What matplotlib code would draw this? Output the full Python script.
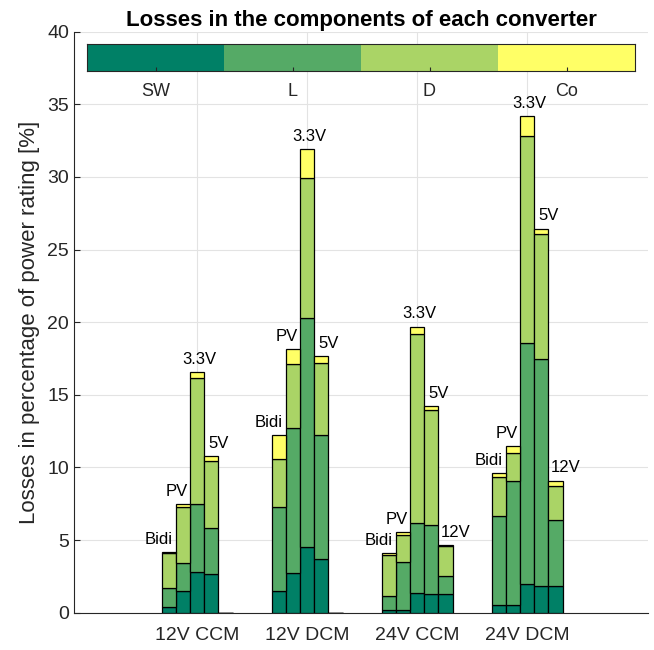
import numpy as np
import matplotlib.pyplot as plt
from matplotlib.colors import ListedColormap

plt.rcParams['font.family'] = ['Liberation Sans', 'DejaVu Sans']

# categories and converters in each group
groups = ['12V CCM', '12V DCM', '24V CCM', '24V DCM']
converters = ['Bidi', 'PV', '3.3V', '5V', '12V']
components = ['SW', 'L', 'D', 'Co']

# losses [%] per component, rows = groups, cols = converters
sw = [[0.4, 1.5, 2.8, 2.65, 0.0],
      [1.5, 2.7, 4.5, 3.7, 0.0],
      [0.2, 0.22, 1.38, 1.3, 1.3],
      [0.5, 0.5, 2.0, 1.85, 1.85]]
ind = [[1.3, 1.9, 4.7, 3.2, 0.0],
       [5.8, 10.05, 15.8, 8.55, 0.0],
       [0.95, 3.28, 4.82, 4.75, 1.25],
       [6.15, 8.57, 16.6, 15.65, 4.5]]
diode = [[2.4, 3.85, 8.65, 4.6, 0.0],
         [3.3, 4.4, 9.6, 4.95, 0.0],
         [2.8, 1.83, 13.0, 7.9, 2.05],
         [2.7, 1.93, 14.2, 8.6, 2.35]]
cout = [[0.1, 0.25, 0.4, 0.35, 0.0],
        [1.6, 1.0, 2.05, 0.45, 0.0],
        [0.18, 0.23, 0.5, 0.3, 0.07],
        [0.25, 0.5, 1.4, 0.35, 0.4]]

colors = ['#008066', '#55aa66', '#aad466', '#ffff66']

fig = plt.figure(figsize=(6.54, 6.5), dpi=100)
ax = fig.add_axes([74 / 654, 1 - 612.7 / 650, 574 / 654, 581 / 650])

data = np.array([sw, ind, diode, cout])  # comp x group x conv
totals = data.sum(axis=0)
w = 0.129
for g in range(len(groups)):
    xs = g + 1 + (np.arange(len(converters)) - 2) * w
    bottom = np.zeros(len(converters))
    for c in range(len(components)):
        vals = data[c, g]
        ax.bar(xs, vals, w, bottom=bottom, color=colors[c], edgecolor='black',
               linewidth=0.9, zorder=3)
        bottom += vals
    # converter labels above bars
    shifts = [-0.09, -0.06, 0.02, 0.07, 0.09]
    for i, name in enumerate(converters):
        if totals[g, i] > 0:
            ax.text(xs[i] + shifts[i], totals[g, i] + 0.35, name, ha='center',
                    va='bottom', fontsize=12, color='black', zorder=4)

ax.set_xlim(-0.12, 5.1)
ax.set_ylim(0, 40)
ax.set_xticks(range(1, len(groups) + 1))
ax.set_xticklabels(groups, fontsize=14, color='#262626')
ax.set_yticks(range(0, 41, 5))
ax.tick_params(axis='y', labelsize=14, colors='#262626', direction='in', length=4)
ax.tick_params(axis='x', direction='in', length=0, pad=10)
ax.grid(True, color='#e3e3e3', linewidth=0.8, zorder=0)
ax.set_axisbelow(True)
for s in ['top', 'right']:
    ax.spines[s].set_visible(False)
for s in ['left', 'bottom']:
    ax.spines[s].set_color('#262626')
    ax.spines[s].set_linewidth(0.8)
ax.set_ylabel('Losses in percentage of power rating [%]', fontsize=16,
              color='#262626', labelpad=5)
ax.set_title('Losses in the components of each converter', fontsize=16,
             fontweight='bold', pad=4)

# colorbar-like legend at the top
cax = fig.add_axes([87 / 654, 1 - 71 / 650, 548 / 654, 27 / 650])
cax.imshow(np.arange(len(components))[None, :], cmap=ListedColormap(colors),
           aspect='auto', extent=(0, len(components), 0, 1))
cax.set_xticks(np.arange(len(components)) + 0.5)
cax.set_xticklabels(components, fontsize=13, color='#262626')
cax.set_yticks([])
cax.tick_params(axis='x', direction='in', length=3, pad=9, color='#262626')
for s in cax.spines.values():
    s.set_color('#262626')
    s.set_linewidth(0.8)

fig.savefig('out.png', dpi=100)
